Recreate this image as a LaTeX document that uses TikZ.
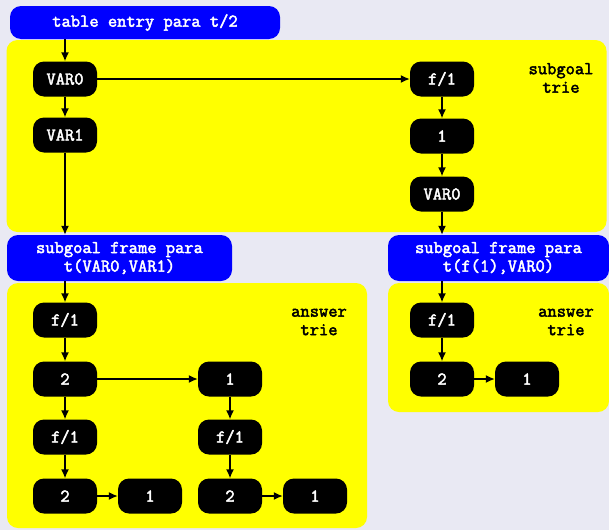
\documentclass[tikz,border=0pt]{standalone}
\usepackage{fontspec}
\newfontfamily\triefont{Latin Modern Mono}[FakeBold=2.5]
\usetikzlibrary{arrows.meta}
\definecolor{pagebg}{HTML}{E9E9F3}
\definecolor{triefill}{HTML}{FFFF00}
\definecolor{framefill}{HTML}{0000FF}
\tikzset{
  x=1pt, y=-1pt,
  txt/.style={font=\fontsize{18}{18.5}\selectfont\triefont},
  cell/.style={txt, rectangle, rounded corners=11pt, fill=black, text=white,
               minimum width=64pt, minimum height=35pt, inner sep=0pt},
  frame/.style={txt, rectangle, rounded corners=11pt, fill=framefill, text=white,
                align=center, inner sep=0pt},
  region/.style={rectangle, rounded corners=11pt, fill=triefill, inner sep=0pt},
  tag/.style={txt, align=center, text=black},
  link/.style={-{Latex[length=9pt,width=8pt]}, line width=1.4pt}
}
\begin{document}
\begin{tikzpicture}
\fill[pagebg] (0,0) rectangle (609,530);
\useasboundingbox (0,0) rectangle (609,530);

% yellow trie regions
\node[region, minimum width=600pt, minimum height=192pt] (strie) at (306.5,136) {};
\node[region, minimum width=360pt, minimum height=245pt] (atrieA) at (187,405.5) {};
\node[region, minimum width=221pt, minimum height=129pt] (atrieB) at (498.5,347.5) {};

% blue headers
\node[frame, minimum width=270pt, minimum height=33pt] (entry) at (145,22.5) {table entry para t/2};
\node[frame, minimum width=225pt, minimum height=46pt] (frameA) at (119.5,258) {subgoal frame para\\t(VAR0,VAR1)};
\node[frame, minimum width=221pt, minimum height=46pt] (frameB) at (498.5,258) {subgoal frame para\\t(f(1),VAR0)};

% region labels
\node[tag] at (561,78) {subgoal\\trie};
\node[tag] at (319,322) {answer\\trie};
\node[tag] at (566,322) {answer\\trie};

% subgoal trie
\node[cell] (s0) at (65,79) {VAR0};
\node[cell] (s1) at (65,135) {VAR1};
\node[cell] (s2) at (442,79) {f/1};
\node[cell] (s3) at (442,136) {1};
\node[cell] (s4) at (442,194) {VAR0};

% answer trie for t(VAR0,VAR1)
\node[cell] (a1) at (65,320) {f/1};
\node[cell] (a2) at (65,379) {2};
\node[cell] (a3) at (230,379) {1};
\node[cell] (a4) at (65,437) {f/1};
\node[cell] (a5) at (230,437) {f/1};
\node[cell] (a6) at (65,496) {2};
\node[cell] (a7) at (150,496) {1};
\node[cell] (a8) at (230,496) {2};
\node[cell] (a9) at (315,496) {1};

% answer trie for t(f(1),VAR0)
\node[cell] (b1) at (442,320) {f/1};
\node[cell] (b2) at (442,379) {2};
\node[cell] (b3) at (527,379) {1};

% links
\draw[link] (entry.south -| s0) -- (s0);
\draw[link] (s0) -- (s1);
\draw[link] (s0) -- (s2);
\draw[link] (s1) -- (frameA.north -| s1);
\draw[link] (s2) -- (s3);
\draw[link] (s3) -- (s4);
\draw[link] (s4) -- (frameB.north -| s4);
\draw[link] (frameA.south -| a1) -- (a1);
\draw[link] (a1) -- (a2);
\draw[link] (a2) -- (a3);
\draw[link] (a2) -- (a4);
\draw[link] (a3) -- (a5);
\draw[link] (a4) -- (a6);
\draw[link] (a5) -- (a8);
\draw[link] (a6) -- (a7);
\draw[link] (a8) -- (a9);
\draw[link] (frameB.south -| b1) -- (b1);
\draw[link] (b1) -- (b2);
\draw[link] (b2) -- (b3);
\end{tikzpicture}
\end{document}
